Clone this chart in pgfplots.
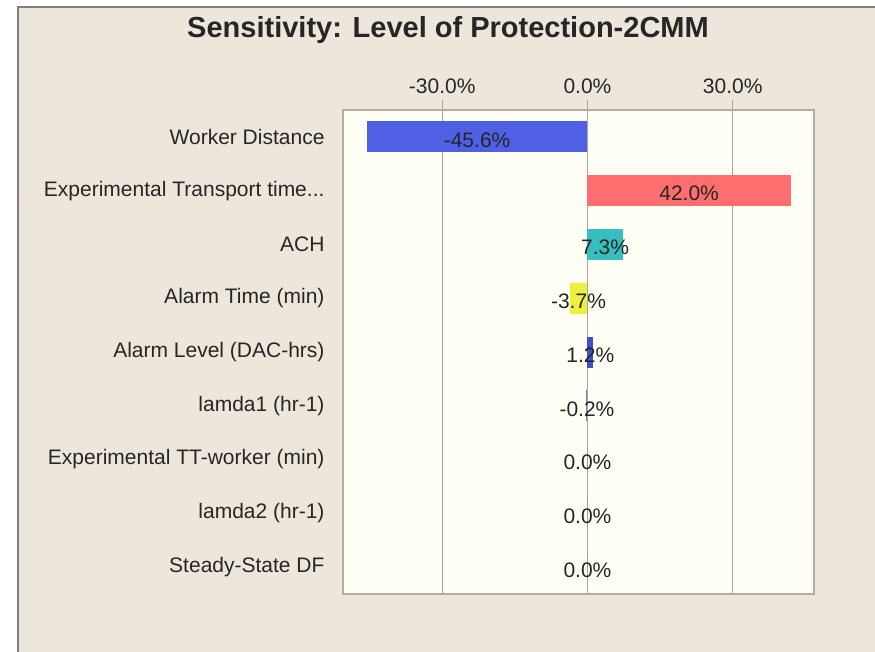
\documentclass[border=0pt]{standalone}
\usepackage{pgfplots}
\pgfplotsset{compat=1.18}
\usepackage{fontspec}
\setmainfont{Liberation Sans}
\definecolor{bgbeige}{HTML}{ECE7DA}
\definecolor{plotbg}{HTML}{FFFFF5}
\definecolor{gridgray}{HTML}{A6A69C}
\definecolor{txt}{HTML}{262626}
\definecolor{cWD}{HTML}{4F5FE6}
\definecolor{cET}{HTML}{FF6E6E}
\definecolor{cACH}{HTML}{36BFBF}
\definecolor{cAT}{HTML}{EEF03C}
\definecolor{cAL}{HTML}{3F4FC4}
\definecolor{cL1}{HTML}{7A7AD0}
\begin{document}
\begin{tikzpicture}[x=1pt,y=1pt]
\useasboundingbox (0,0) rectangle (875,-652);
\fill[white] (0,0) rectangle (875,-652);
\fill[bgbeige] (18,-7) rectangle (875,-652);
\draw[gray, line width=2pt] (18,-652) -- (18,-7) -- (875,-7);
\node[font=\fontsize{29}{34}\selectfont\bfseries, text=black!85, anchor=base] at (448,-38) {Sensitivity: Level of Protection-2CMM};
\begin{axis}[
  at={(343pt,-594pt)}, anchor=south west,
  scale only axis, width=471pt, height=484pt,
  xmin=-50.5, xmax=46.8, ymin=-0.5, ymax=8.5,
  axis background/.style={fill=plotbg},
  axis line style={draw=gridgray!90, line width=1.5pt},
  xtick={-30,0,30}, xticklabels={-30.0\%,0.0\%,30.0\%},
  xtick pos=right, xticklabel pos=right,
  ytick={0,1,2,3,4,5,6,7,8},
  yticklabels={Steady-State DF, lamda2 (hr-1), Experimental TT-worker (min), lamda1 (hr-1), Alarm Level (DAC-hrs), Alarm Time (min), ACH, {Experimental Transport time{.}{.}{.}}, Worker Distance},
  ytick style={draw=none},
  tick align=outside, major tick length=10pt,
  xtick style={draw=gridgray, line width=1.2pt},
  xmajorgrids, major grid style={draw=gridgray, line width=1.2pt},
  tick label style={font=\fontsize{21}{25}\selectfont, text=txt},
  yticklabel style={anchor=east, xshift=-5pt},
  xticklabel style={yshift=3pt},
  bar width=31pt,
]
\addplot[xbar, bar shift=0pt, fill=cWD, draw=none] coordinates {(-45.6,8)};
\addplot[xbar, bar shift=0pt, fill=cET, draw=none] coordinates {(42.0,7)};
\addplot[xbar, bar shift=0pt, fill=cACH, draw=none] coordinates {(7.3,6)};
\addplot[xbar, bar shift=0pt, fill=cAT, draw=none] coordinates {(-3.7,5)};
\addplot[xbar, bar shift=0pt, fill=cAL, draw=none] coordinates {(1.2,4)};
\addplot[xbar, bar shift=0pt, fill=cL1, draw=none] coordinates {(-0.2,3)};
\addplot[xbar, bar shift=0pt, fill=cL1, draw=none] coordinates {(0,2) (0,1) (0,0)};
\addplot[draw=none, mark=none, nodes near coords={\pgfplotspointmeta\%}, point meta=explicit symbolic,
  nodes near coords style={anchor=center, yshift=-3pt, font=\fontsize{21}{25}\selectfont, text=txt}]
  table[x=x, y=y, meta=lab] {
x y lab
-22.8 8 -45.6
21.0 7 42.0
3.65 6 7.3
-1.85 5 -3.7
0.6 4 1.2
-0.1 3 -0.2
0 2 0.0
0 1 0.0
0 0 0.0
};
\end{axis}
\end{tikzpicture}
\end{document}
